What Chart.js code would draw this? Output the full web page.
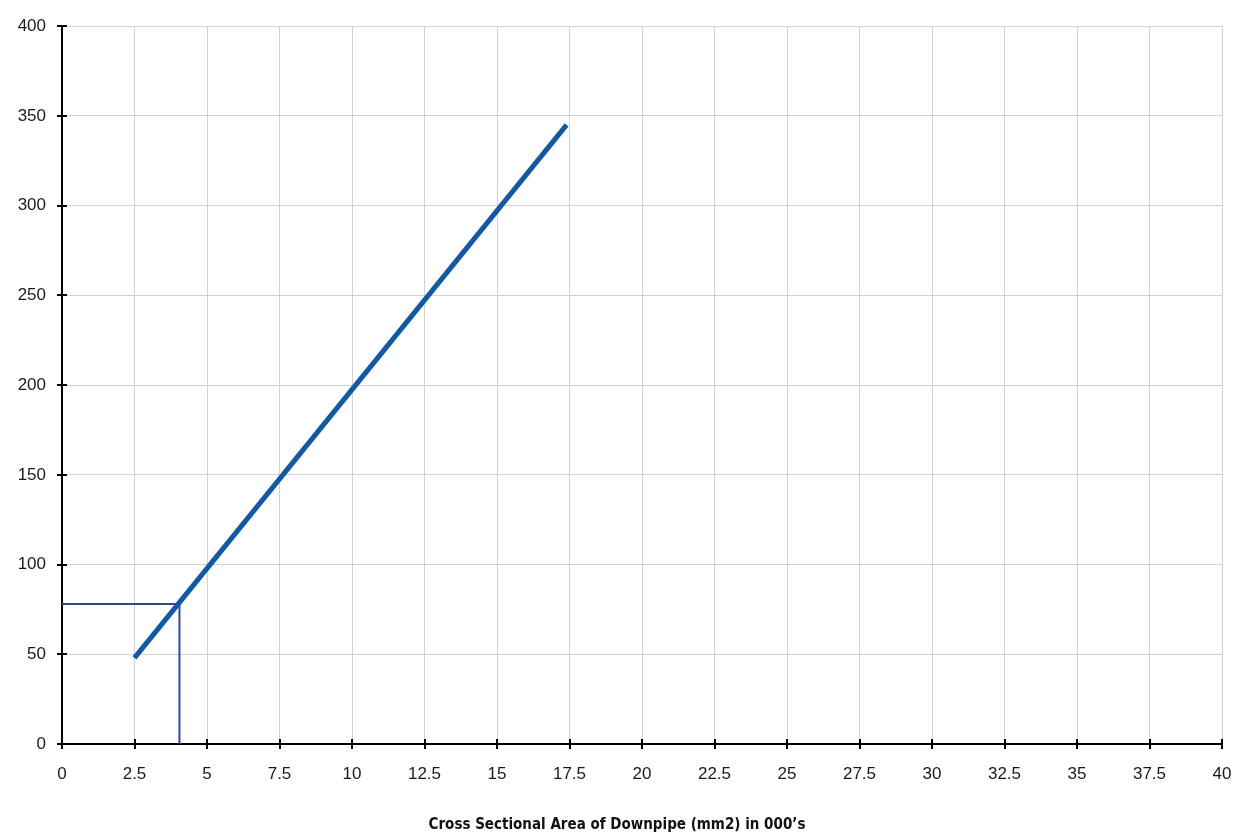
<!DOCTYPE html>
<html>
<head>
<meta charset="utf-8">
<script src="https://cdn.jsdelivr.net/npm/chart.js@4/dist/chart.umd.min.js"></script>
<style>
  html, body { margin: 0; padding: 0; background: #ffffff; }
  #wrap { width: 1234px; height: 838px; position: relative; }
</style>
</head>
<body>
<div id="wrap"><canvas id="c" width="1234" height="838"></canvas></div>
<script>
// Data
const lineX = [2.5, 17.4];
const lineY = [48, 345];
const refX = [0, 4.05, 4.05];
const refY = [78, 78, 0];
const xMin = 0, xMax = 40, xStep = 2.5;
const yMin = 0, yMax = 400, yStep = 50;
const xTitle = "Cross Sectional Area of Downpipe (mm2) in 000\u2019s";

const toPts = (xs, ys) => xs.map((x, i) => ({ x: x, y: ys[i] }));

const crossTicks = {
  id: 'crossTicks',
  afterDraw(chart) {
    const ctx = chart.ctx;
    const xs = chart.scales.x, ys = chart.scales.y;
    ctx.save();
    ctx.strokeStyle = '#000';
    ctx.lineWidth = 2;
    xs.ticks.forEach(t => {
      const px = Math.round(xs.getPixelForValue(t.value));
      ctx.beginPath();
      ctx.moveTo(px, ys.bottom - 5);
      ctx.lineTo(px, ys.bottom + 5);
      ctx.stroke();
    });
    ys.ticks.forEach(t => {
      const py = Math.round(ys.getPixelForValue(t.value));
      ctx.beginPath();
      ctx.moveTo(xs.left - 5, py);
      ctx.lineTo(xs.left + 5, py);
      ctx.stroke();
    });
    ctx.restore();
  }
};

new Chart(document.getElementById('c'), {
  type: 'scatter',
  data: {
    datasets: [
      {
        data: toPts(refX, refY),
        showLine: true,
        borderColor: '#2b4a8c',
        borderWidth: 2,
        pointRadius: 0,
        tension: 0,
        order: 2
      },
      {
        data: toPts(lineX, lineY),
        showLine: true,
        borderColor: '#1158a7',
        borderWidth: 5,
        borderCapStyle: 'butt',
        pointRadius: 0,
        tension: 0,
        order: 1
      }
    ]
  },
  options: {
    responsive: false,
    animation: false,
    layout: { padding: { top: 24, right: 0, bottom: 4, left: 0 } },
    plugins: {
      legend: { display: false },
      tooltip: { enabled: false },
      title: {
        display: true,
        position: 'bottom',
        text: xTitle,
        color: '#111',
        font: { family: 'DejaVu Sans Condensed, Liberation Sans Narrow, sans-serif', size: 15, weight: 'bold', lineHeight: 1.2 },
        padding: { top: 0, bottom: 0 }
      }
    },
    scales: {
      x: {
        type: 'linear',
        min: xMin, max: xMax,
        ticks: {
          stepSize: xStep,
          color: '#1a1a1a',
          font: { family: 'Liberation Sans, Arial, sans-serif', size: 17 },
          padding: 20,
          maxRotation: 0,
          autoSkip: false
        },
        grid: { color: '#d2d2d2', lineWidth: 1, drawTicks: false },
        border: { color: '#000', width: 2 },
        afterFit(scale) { scale.height = 72; scale.paddingRight = 12; }
      },
      y: {
        type: 'linear',
        min: yMin, max: yMax,
        ticks: {
          stepSize: yStep,
          color: '#1a1a1a',
          font: { family: 'Liberation Sans, Arial, sans-serif', size: 17 },
          padding: 16
        },
        grid: { color: '#d2d2d2', lineWidth: 1, drawTicks: false },
        border: { color: '#000', width: 2 },
        afterFit(scale) { scale.width = 62; }
      }
    }
  },
  plugins: [crossTicks]
});
</script>
</body>
</html>
